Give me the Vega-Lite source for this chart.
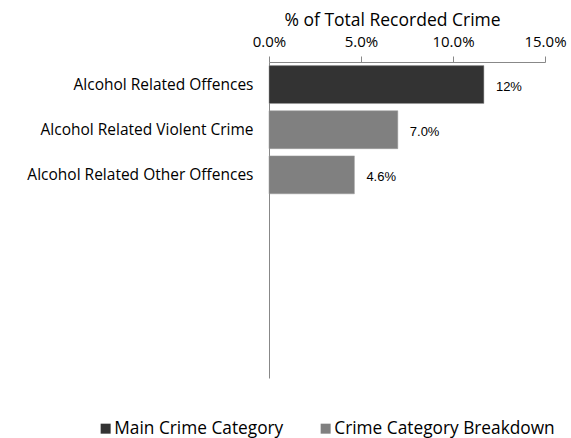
{
  "$schema": "https://vega.github.io/schema/vega-lite/v6.json",
  "width": 276,
  "height": 316,
  "autosize": {"type": "none"},
  "padding": {"left": 269, "top": 62, "right": 26, "bottom": 60},
  "background": "white",
  "config": {"view": {"stroke": null}, "font": "Open Sans"},
  "data": {
    "values": [
      {"category": "Alcohol Related Offences", "value": 11.68, "label": "12%", "type": "Main Crime Category"},
      {"category": "Alcohol Related Violent Crime", "value": 7.0, "label": "7.0%", "type": "Crime Category Breakdown"},
      {"category": "Alcohol Related Other Offences", "value": 4.64, "label": "4.6%", "type": "Crime Category Breakdown"}
    ]
  },
  "encoding": {
    "y": {
      "field": "category",
      "type": "nominal",
      "sort": null,
      "scale": {
        "domain": ["Alcohol Related Offences", "Alcohol Related Violent Crime", "Alcohol Related Other Offences", "_4", "_5", "_6", "_7"],
        "paddingInner": 0.16,
        "paddingOuter": 0.08
      },
      "axis": {
        "title": null,
        "ticks": false,
        "labelPadding": 16,
        "labelFont": "Open Sans",
        "labelFontSize": 15.5,
        "labelColor": "#000000",
        "labelExpr": "indexof(datum.value, '_') === 0 ? '' : datum.value",
        "domainColor": "#888888",
        "labelLimit": 300
      }
    }
  },
  "layer": [
    {
      "mark": {"type": "bar", "stroke": "#9a9a9a", "strokeWidth": 0.5},
      "encoding": {
        "x": {
          "field": "value",
          "type": "quantitative",
          "scale": {"domain": [0, 15], "nice": false},
          "axis": {
            "orient": "top",
            "title": "% of Total Recorded Crime",
            "titleFont": "Open Sans",
            "titleFontSize": 17.5,
            "titleFontWeight": "normal",
            "titleColor": "#000000",
            "titleX": 123,
            "titleY": -37,
            "titleAlign": "center",
            "titleBaseline": "alphabetic",
            "values": [0, 5, 10, 15],
            "labelExpr": "format(datum.value, '.1f') + '%'",
            "labelFont": "Open Sans",
            "labelFontSize": 15,
            "labelColor": "#000000",
            "labelPadding": 7,
            "labelFlush": false,
            "labelOverlap": false,
            "tickSize": 6,
            "tickColor": "#888888",
            "domainColor": "#888888",
            "grid": false
          }
        },
        "color": {
          "field": "type",
          "type": "nominal",
          "scale": {"domain": ["Main Crime Category", "Crime Category Breakdown"], "range": ["#333333", "#808080"]},
          "legend": {
            "title": null,
            "orient": "none",
            "direction": "horizontal",
            "legendX": -172,
            "legendY": 358,
            "symbolType": "square",
            "symbolSize": 100,
            "symbolStrokeWidth": 0,
            "labelFont": "Open Sans",
            "labelFontSize": 17.3,
            "labelColor": "#000000",
            "labelOffset": 0,
            "columnPadding": 33,
            "labelLimit": 300
          }
        }
      }
    },
    {
      "mark": {"type": "text", "align": "left", "dx": 12, "dy": 2, "font": "Liberation Sans", "fontSize": 13, "color": "#000000"},
      "encoding": {
        "x": {"field": "value", "type": "quantitative"},
        "text": {"field": "label"}
      }
    }
  ]
}
